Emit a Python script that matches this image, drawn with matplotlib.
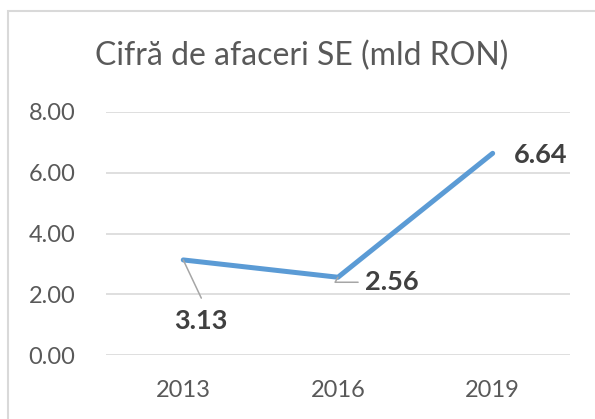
import matplotlib.pyplot as plt
from matplotlib.patches import Rectangle

years = ['2013', '2016', '2019']
values = [3.13, 2.56, 6.64]
yticks = [0, 2, 4, 6, 8]

plt.rcParams['font.family'] = ['Lato', 'DejaVu Sans']

fig = plt.figure(figsize=(5.95, 4.19), dpi=100)
ax = fig.add_axes([0.178, 0.1527, 0.780, 0.580])

x = list(range(len(years)))
ax.plot(x, values, color='#5B9BD5', lw=3.6, solid_capstyle='round', solid_joinstyle='round', zorder=3)

ax.set_xlim(-0.5, 2.5)
ax.set_ylim(0, 8)
ax.set_yticks(yticks)
ax.set_yticklabels([f'{v:.2f}' for v in yticks])
ax.set_xticks(x)
ax.set_xticklabels(years)
ax.tick_params(axis='both', length=0, labelsize=17, labelcolor='#595959')
ax.tick_params(axis='y', pad=22)
ax.tick_params(axis='x', pad=18)
ax.grid(axis='y', color='#D9D9D9', lw=1.2)
ax.set_axisbelow(True)
for s in ax.spines.values():
    s.set_visible(False)

# leader lines
lead = dict(arrowstyle='-', color='#A6A6A6', lw=1.1, shrinkA=0, shrinkB=0)
ax.annotate('', xy=(0, values[0]), xytext=(13, -27.5), textcoords='offset points', arrowprops=lead)
ax.annotate('', xy=(1, values[1]), xytext=(14.5, -3.6), textcoords='offset points',
            arrowprops=dict(lead, connectionstyle='angle,angleA=0,angleB=60,rad=0'))

# data labels
offsets = [(12.5, -44), (39, -3.6), (34.6, -1.4)]
for xi, v, off in zip(x, values, offsets):
    ax.annotate(f'{v:.2f}', xy=(xi, v), xytext=off, textcoords='offset points',
                ha='center', va='center', fontsize=19.5, fontweight='bold', color='#404040')

fig.text(0.507, 0.866, 'Cifră de afaceri SE (mld RON)', ha='center', va='center',
         fontsize=23, color='#595959')

# chart frame
fig.patches.append(Rectangle((8 / 595, -0.1), 1.2, 1 - 11 / 419 + 0.1, transform=fig.transFigure,
                             fill=False, edgecolor='#D9D9D9', lw=1.5))

fig.savefig('out.png', dpi=100)
